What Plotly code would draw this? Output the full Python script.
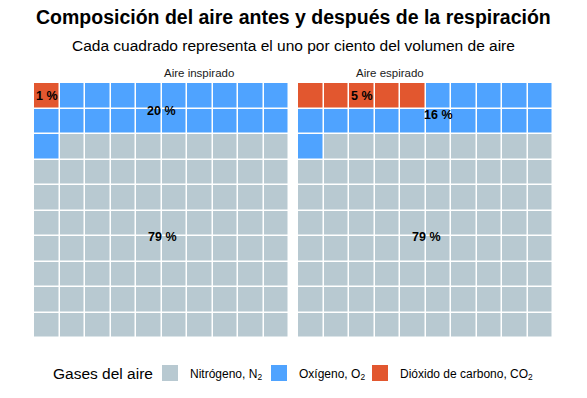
import plotly.graph_objects as go
import numpy as np

panels = ["Aire inspirado", "Aire espirado"]
gases = ["Dióxido de carbono, CO<sub>2</sub>", "Oxígeno, O<sub>2</sub>", "Nitrógeno, N<sub>2</sub>"]
legend_title = "Gases del aire"
inspirado = [1, 20, 79]   # CO2, O2, N2
espirado = [5, 16, 79]
colors = ["#E2572F", "#4FA3FF", "#B8C9D1"]
legend_order = [2, 1, 0]

fig = go.Figure()
W = 519.0
H = 255.0
X0 = 34.0
doms = [[0, 255 / W], [264 / W, 1]]
data_sets = [inspirado, espirado]

colorscale = [[0, colors[0]], [0.333, colors[0]], [0.333, colors[1]], [0.666, colors[1]],
              [0.666, colors[2]], [1, colors[2]]]

annotations = []
for i, vals in enumerate(data_sets):
    cat = []
    for g, v in enumerate(vals):
        cat += [g] * v
    z = np.array(cat).reshape(10, 10)
    xa = "x" if i == 0 else "x2"
    ya = "y" if i == 0 else "y2"
    fig.add_trace(go.Heatmap(z=z, x=list(range(10)), y=list(range(10)), zmin=0, zmax=2,
                             colorscale=colorscale, showscale=False, xgap=1.5, ygap=1.5,
                             hoverinfo="skip", xaxis=xa, yaxis=ya))
    idx = np.arange(100)
    for g, v in enumerate(vals):
        sel = z.flatten() == g
        mx = (idx[sel] % 10).mean()
        my = (idx[sel] // 10).mean()
        annotations.append(dict(x=mx, y=my, xref=xa, yref=ya, text=f"<b>{v} %</b>",
                                showarrow=False, font=dict(size=12.5, color="black")))
    annotations.append(dict(x=(doms[i][0] + doms[i][1]) / 2, y=1.0, xref="paper", yref="paper",
                            yanchor="bottom", yshift=2, text=panels[i], showarrow=False,
                            font=dict(size=11.5, color="#1a1a1a")))

legend_names = ["legend", "legend2", "legend3"]
for k, g in enumerate(legend_order):
    fig.add_trace(go.Scatter(x=[None], y=[None], mode="markers", name=gases[g],
                             marker=dict(symbol="square", size=18, color=colors[g]),
                             showlegend=True, legend=legend_names[k]))

leg_y = -(373 - 338) / H
leg_common = dict(orientation="h", y=leg_y, yanchor="middle", xanchor="left",
                  font=dict(size=12), itemclick=False, bgcolor="rgba(0,0,0,0)")

axis_common = dict(range=[-0.5, 9.5], showgrid=False, zeroline=False, showticklabels=False,
                   ticks="", showline=False)
fig.update_layout(
    width=587, height=398,
    margin=dict(l=34, r=34, t=83, b=60, autoexpand=False),
    plot_bgcolor="white", paper_bgcolor="white",
    font=dict(family="Liberation Sans, Arial, sans-serif", color="black"),
    xaxis=dict(domain=doms[0], **axis_common),
    xaxis2=dict(domain=doms[1], **axis_common),
    yaxis=dict(domain=[0, 1], range=[9.5, -0.5], showgrid=False, zeroline=False,
               showticklabels=False, ticks=""),
    yaxis2=dict(domain=[0, 1], range=[9.5, -0.5], showgrid=False, zeroline=False,
                showticklabels=False, ticks="", anchor="x2"),
    annotations=annotations + [
        dict(x=0.5, y=1 + (83 - 17) / H, xref="paper", yref="paper", yanchor="middle",
             text="<b>Composición del aire antes y después de la respiración</b>",
             showarrow=False, font=dict(size=19.5)),
        dict(x=0.5, y=1 + (83 - 45) / H, xref="paper", yref="paper", yanchor="middle",
             text="Cada cuadrado representa el uno por ciento del volumen de aire",
             showarrow=False, font=dict(size=15.5)),
        dict(x=(51 - X0) / W, y=leg_y, xref="paper", yref="paper", xanchor="left",
             yanchor="middle", text=legend_title, showarrow=False, font=dict(size=15.5)),
    ],
    legend=dict(x=(150 - X0) / W, **leg_common),
    legend2=dict(x=(259 - X0) / W, **leg_common),
    legend3=dict(x=(360 - X0) / W, **leg_common),
)

fig.write_html("out.html", config={"displayModeBar": False},
               post_script="document.body.style.margin='0';")
